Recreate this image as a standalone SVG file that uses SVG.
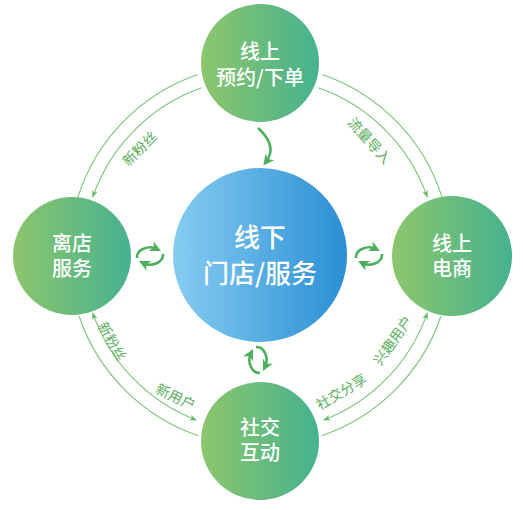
<svg xmlns="http://www.w3.org/2000/svg" width="523" height="510" viewBox="0 0 523 510">
<style>
.t{font-family:"Noto Sans CJK SC","Noto Sans",sans-serif;fill:#fff;text-anchor:middle;font-weight:500}
.s{font-size:20px}
.b{font-size:26px}
.lbl{font-family:"Noto Sans CJK SC","Noto Sans",sans-serif;fill:#5aae5e;font-size:14px;text-anchor:middle;dominant-baseline:central}
.arc{fill:none;stroke:#79c37a;stroke-width:1.1}
.cy{fill:none;stroke:#4caf5c;stroke-width:2.6}
</style>
<defs>
<linearGradient id="gg" x1="0" y1="0" x2="1" y2="0">
<stop offset="0" stop-color="#8dc66c"/>
<stop offset="1" stop-color="#45b28f"/>
</linearGradient>
<linearGradient id="gb" x1="0" y1="0" x2="1" y2="0">
<stop offset="0" stop-color="#86ccf1"/>
<stop offset="1" stop-color="#2a8fd4"/>
</linearGradient>
<marker id="ah" viewBox="0 0 10 10" refX="10" refY="5" markerWidth="7" markerHeight="7" markerUnits="userSpaceOnUse" orient="auto-start-reverse">
<path d="M0,1 L10,5 L0,9 L3,5 z" fill="#5cb860"/>
</marker>
<marker id="ah2" viewBox="0 0 10 10" refX="6" refY="5" markerWidth="11" markerHeight="11" markerUnits="userSpaceOnUse" orient="auto">
<path d="M0,0 L10,5 L0,10 L3,5 z" fill="#4caf5c"/>
</marker>
<g id="cyc">
<path class="cy" d="M-13,2 A13,10 0 0 1 7,-7" marker-end="url(#ah2)"/>
<path class="cy" d="M13,-2 A13,10 0 0 1 -7,7" marker-end="url(#ah2)"/>
</g>
</defs>
<g id="connectors">
<path class="arc" d="M197.8,74.4 A191,191 0 0 0 77.9,197.2"/>
<path class="arc" d="M201.8,87.8 A177,177 0 0 0 92.6,197.4" marker-end="url(#ah)"/>
<path class="arc" d="M322.2,74.4 A191,191 0 0 1 442.1,197.2"/>
<path class="arc" d="M318.2,87.8 A177,177 0 0 1 427.4,197.4" marker-end="url(#ah)"/>
<path class="arc" d="M79.1,316.2 A191,191 0 0 0 198.4,435.8"/>
<path class="arc" d="M92.6,312.6 A177,177 0 0 0 196.6,420.2" marker-start="url(#ah)" marker-end="url(#ah)"/>
<path class="arc" d="M440.9,316.2 A191,191 0 0 1 321.6,435.8"/>
<path class="arc" d="M427.4,312.6 A177,177 0 0 1 323.4,420.2" marker-start="url(#ah)" marker-end="url(#ah)"/>
<path class="cy" d="M258,128 Q278,146 266,162" marker-end="url(#ah2)"/>
<use href="#cyc" transform="translate(150,256)"/>
<use href="#cyc" transform="translate(369,256)"/>
<use href="#cyc" transform="translate(258,360) rotate(90)"/>
</g>
<g id="labels">
<text class="lbl" transform="translate(139,148) rotate(-45)">新粉丝</text>
<text class="lbl" transform="translate(370,140) rotate(48)">流量导入</text>
<text class="lbl" transform="translate(113,341) rotate(60)">新粉丝</text>
<text class="lbl" transform="translate(176,396) rotate(25)">新用户</text>
<text class="lbl" transform="translate(392,340) rotate(-55)">兴趣用户</text>
<text class="lbl" transform="translate(341,391) rotate(-31)">社交分享</text>
</g>
<g id="node-top">
<circle cx="260" cy="63" r="59" fill="url(#gg)"/>
<text class="t s" x="260" y="58.6">线上<tspan x="260" dy="26">预约/下单</tspan></text>
</g>
<g id="node-center">
<circle cx="260" cy="255" r="87" fill="url(#gb)"/>
<text class="t b" x="260" y="246.5">线下<tspan x="260" dy="36">门店/服务</tspan></text>
</g>
<g id="node-left">
<circle cx="72" cy="256" r="59" fill="url(#gg)"/>
<text class="t s" x="72" y="250.5">离店<tspan x="72" dy="25">服务</tspan></text>
</g>
<g id="node-right">
<circle cx="452" cy="256" r="60" fill="url(#gg)"/>
<text class="t s" x="452" y="250.5">线上<tspan x="452" dy="25">电商</tspan></text>
</g>
<g id="node-bottom">
<circle cx="260" cy="441" r="59" fill="url(#gg)"/>
<text class="t s" x="260" y="434.5">社交<tspan x="260" dy="25">互动</tspan></text>
</g>
</svg>
